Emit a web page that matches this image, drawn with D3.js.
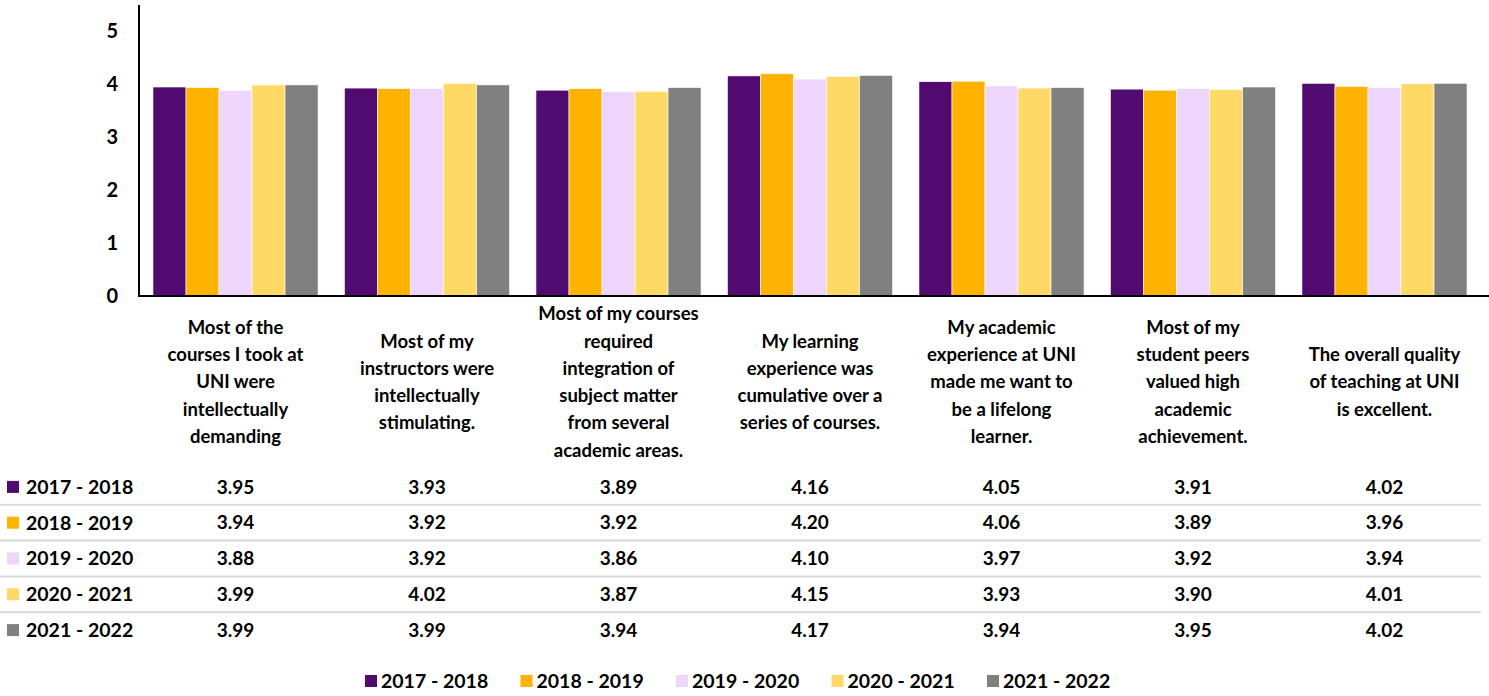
<!DOCTYPE html>
<html><head><meta charset="utf-8">
<script src="https://cdn.jsdelivr.net/npm/d3@7"></script>
<style>
body{margin:0;background:#fff}
svg text{font-family:Lato,'Open Sans',sans-serif;font-weight:bold;fill:#000}
</style></head>
<body><svg id="c" width="1489" height="696"></svg>
<script>
const categories = [
  "Most of the courses I took at UNI were intellectually demanding",
  "Most of my instructors were intellectually stimulating.",
  "Most of my courses required integration of subject matter from several academic areas.",
  "My learning experience was cumulative over a series of courses.",
  "My academic experience at UNI made me want to be a lifelong learner.",
  "Most of my student peers valued high academic achievement.",
  "The overall quality of teaching at UNI is excellent."
];
const categoryLines = [
  ["Most of the","courses I took at","UNI were","intellectually","demanding"],
  ["Most of my","instructors were","intellectually","stimulating."],
  ["Most of my courses","required","integration of","subject matter","from several","academic areas."],
  ["My learning","experience was","cumulative over a","series of courses."],
  ["My academic","experience at UNI","made me want to","be a lifelong","learner."],
  ["Most of my","student peers","valued high","academic","achievement."],
  ["The overall quality","of teaching at UNI","is excellent."]
];
const seriesNames = ["2017 - 2018","2018 - 2019","2019 - 2020","2020 - 2021","2021 - 2022"];
const values2017 = [3.95,3.93,3.89,4.16,4.05,3.91,4.02];
const values2018 = [3.94,3.92,3.92,4.20,4.06,3.89,3.96];
const values2019 = [3.88,3.92,3.86,4.10,3.97,3.92,3.94];
const values2020 = [3.99,4.02,3.87,4.15,3.93,3.90,4.01];
const values2021 = [3.99,3.99,3.94,4.17,3.94,3.95,4.02];
const seriesColors = ["#500a70","#ffb300","#eed5fb","#ffd966","#808080"];
const yTicks = [0,1,2,3,4,5];

const series = seriesNames.map((name,i)=>({name, color:seriesColors[i],
  values:[values2017,values2018,values2019,values2020,values2021][i]}));

const svg = d3.select("#c");
const x = d3.scaleBand().domain(categories).range([139,1481]).paddingInner(0.138).paddingOuter(0.073);
const xs = d3.scaleBand().domain(seriesNames).range([0,x.bandwidth()]);
const y = d3.scaleLinear().domain([0,5.5]).range([296,5]);

// bars
const g = svg.append("g");
series.forEach(s=>{
  g.selectAll(null).data(categories).enter().append("rect")
    .attr("x",(c)=>x(c)+xs(s.name))
    .attr("y",(c,i)=>y(s.values[i]))
    .attr("width",xs.bandwidth())
    .attr("height",(c,i)=>y(0)-y(s.values[i]))
    .attr("fill",s.color)
    .attr("stroke","#ffffff").attr("stroke-width",0.6);
});

// y axis
const yAxis = d3.axisLeft(y).tickValues(yTicks).tickFormat(d3.format("d")).tickSize(0).tickPadding(21);
const ya = svg.append("g").attr("transform","translate(139,0)").call(yAxis);
ya.select(".domain").remove();
ya.selectAll("text").style("font-size","20px").style("font-family","Lato,sans-serif").style("font-weight","bold").attr("fill","#000");
svg.append("line").attr("x1",139).attr("x2",139).attr("y1",y(5.5)).attr("y2",y(0)+1).attr("stroke","#000").attr("stroke-width",2);
svg.append("line").attr("x1",138).attr("x2",1489).attr("y1",y(0)).attr("y2",y(0)).attr("stroke","#000").attr("stroke-width",2);

// category labels
const lh = 27.3;
categories.forEach((c,i)=>{
  const lines = categoryLines[i];
  const cx = x(c)+x.bandwidth()/2;
  const y0 = 382 - (lines.length-1)*lh/2;
  const t = svg.append("text").attr("text-anchor","middle").style("font-size","18.5px");
  lines.forEach((l,j)=>t.append("tspan").attr("x",cx).attr("y",y0+j*lh).attr("dy","0.35em").text(l));
});

// data table
const rows = d3.scaleBand().domain(seriesNames).range([469,648]);
seriesNames.forEach((n,k)=>{
  if(k>0) svg.append("line").attr("x1",0).attr("x2",1481).attr("y1",rows(n)).attr("y2",rows(n)).attr("stroke","#d9d9d9").attr("stroke-width",2);
});
series.forEach(s=>{
  const cy = rows(s.name)+rows.bandwidth()/2;
  svg.append("rect").attr("x",7).attr("y",cy-6).attr("width",12).attr("height",12).attr("fill",s.color);
  svg.append("text").attr("x",26).attr("y",cy).attr("dy","0.35em").style("font-size","19.5px").text(s.name);
  svg.selectAll(null).data(categories).enter().append("text")
    .attr("x",c=>x(c)+x.bandwidth()/2).attr("y",cy).attr("dy","0.35em")
    .attr("text-anchor","middle").style("font-size","19px")
    .text((c,i)=>s.values[i].toFixed(2));
});

// legend
const lg = d3.scalePoint().domain(seriesNames).range([365,987]);
series.forEach(s=>{
  svg.append("rect").attr("x",lg(s.name)).attr("y",675).attr("width",12).attr("height",12).attr("fill",s.color);
  svg.append("text").attr("x",lg(s.name)+16).attr("y",681).attr("dy","0.35em").style("font-size","19.5px").text(s.name);
});
</script></body></html>
